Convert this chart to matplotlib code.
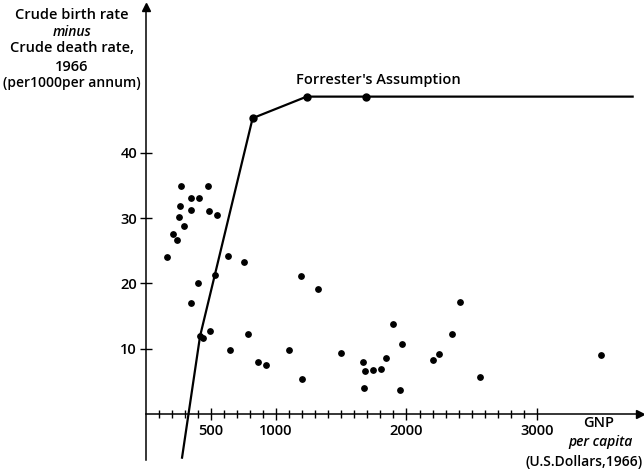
import matplotlib.pyplot as plt

# scatter: GNP per capita (US$ 1966) vs birth rate minus death rate
gnp = [270, 477, 346, 410, 262, 349, 489, 550, 259, 297, 213, 239, 162, 630, 757,
       533, 400, 1192, 1324, 349, 418, 438, 492, 785, 648, 1100, 862, 921, 1199,
       2408, 1899, 1968, 2346, 1500, 2251, 2201, 1667, 1845, 1684, 1741, 1805,
       1672, 1950, 2561, 3490]
growth = [34.9, 34.9, 33.0, 33.0, 31.9, 31.2, 31.1, 30.5, 30.1, 28.8, 27.6, 26.6,
          24.0, 24.2, 23.3, 21.3, 20.1, 21.1, 19.2, 17.0, 12.0, 11.7, 12.7, 12.3,
          9.8, 9.8, 7.9, 7.5, 5.4, 17.1, 13.7, 10.7, 12.3, 9.3, 9.2, 8.3, 8.0,
          8.6, 6.5, 6.7, 6.9, 3.9, 3.6, 5.6, 9.0]

# Forrester's assumption
forr_x = [280, 418, 821, 1235, 1690, 3733]
forr_y = [-6.7, 11.9, 45.3, 48.6, 48.6, 48.6]
forr_pts = [2, 3, 4]  # which points get a dot

xticks_major = [500, 1000, 2000, 3000]
xtick_labels = ["500", "1000", "2000", "3000"]
yticks = [10, 20, 30, 40]

plt.rcParams['font.family'] = ['Open Sans', 'DejaVu Sans']
plt.rcParams['font.weight'] = 'semibold'

fig = plt.figure(figsize=(6.44, 4.72), dpi=100)
ax = fig.add_axes([0, 0, 1, 1])
ax.set_xlim(-1115, 3820)
ax.set_ylim(-8.9, 63.4)

ax.spines['top'].set_visible(False)
ax.spines['right'].set_visible(False)
ax.spines['left'].set_position(('data', 0))
ax.spines['bottom'].set_position(('data', 0))
ax.spines['left'].set_bounds(-7, 62)
ax.spines['bottom'].set_bounds(0, 3780)
for s in ['left', 'bottom']:
    ax.spines[s].set_linewidth(1.1)

# arrowheads
ax.plot([0], [62.3], marker='^', color='black', markersize=6, clip_on=False)
ax.plot([3790], [0], marker='>', color='black', markersize=6, clip_on=False)

ax.set_xticks(xticks_major)
ax.set_xticklabels(xtick_labels)
ax.set_xticks(range(100, 3000, 100), minor=True)
ax.set_yticks(yticks)
ax.tick_params(axis='x', which='major', direction='inout', length=9, width=1,
               labelsize=10.5, pad=3)
ax.tick_params(axis='x', which='minor', direction='inout', length=6, width=1)
ax.tick_params(axis='y', which='major', direction='inout', length=8, width=1,
               labelsize=10.5, pad=2)

ax.plot(forr_x, forr_y, color='black', lw=1.6)
ax.plot([forr_x[i] for i in forr_pts], [forr_y[i] for i in forr_pts], 'o',
        color='black', markersize=5)
ax.scatter(gnp, growth, s=15, color='black', zorder=3)

ax.text(1782, 51.15, "Forrester's Assumption", fontsize=10.5, ha='center', va='center')

# y axis label
ylab = [("Crude birth rate", 'normal', 61.1, 10.5),
        ("minus", 'italic', 58.55, 10),
        ("Crude death rate,", 'normal', 56.0, 10.5),
        ("1966", 'normal', 53.2, 10.5),
        ("(per1000per annum)", 'normal', 50.64, 10)]
for t, st, yy, fs in ylab:
    ax.text(-563, yy, t, fontsize=fs, style=st, ha='center', va='center')

ax.text(3475, -1.38, "GNP", fontsize=10.5, ha='center', va='center')
ax.text(3483, -4.29, "per capita", fontsize=10, style='italic', ha='center', va='center')
ax.text(3812, -7.35, "(U.S.Dollars,1966)", fontsize=10, ha='right', va='center')

fig.savefig("out.png", dpi=100)
